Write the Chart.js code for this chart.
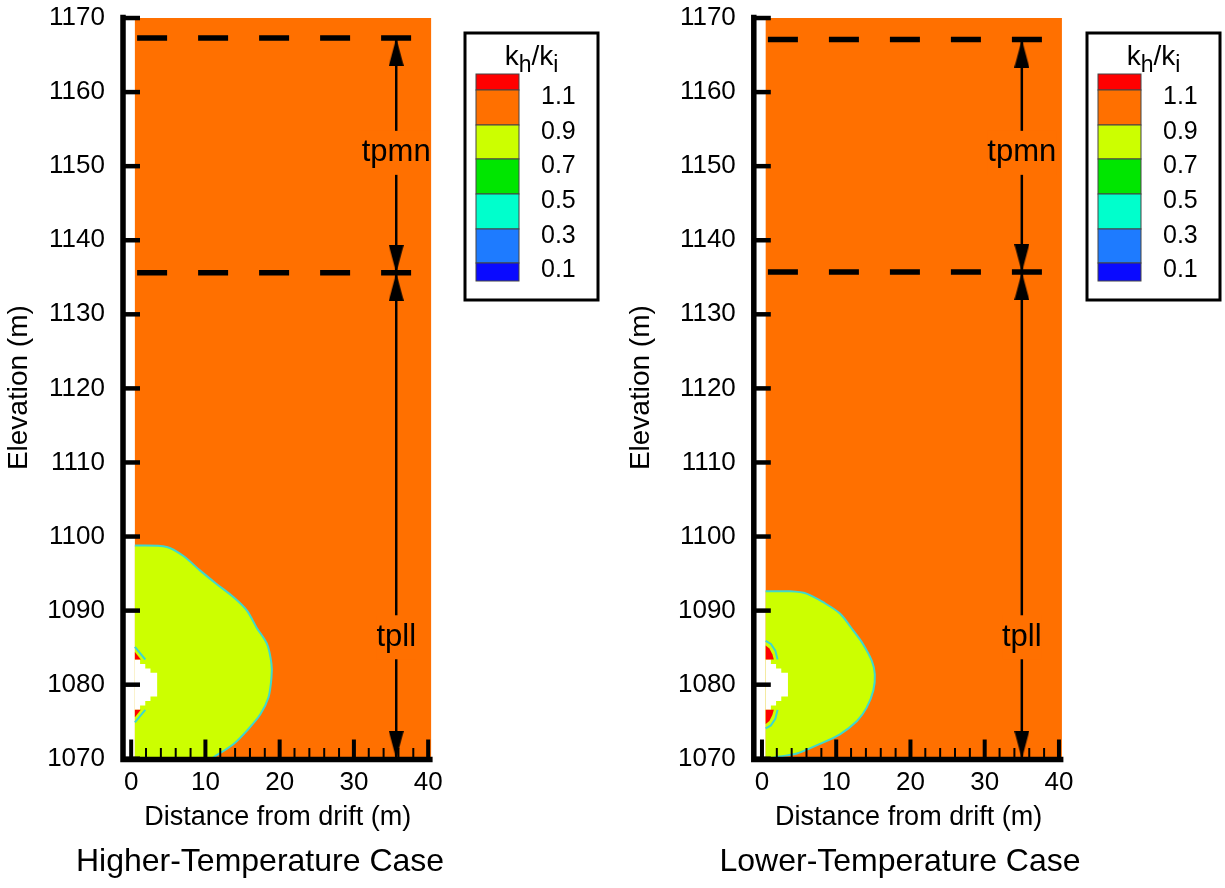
<!DOCTYPE html>
<html>
<head>
<meta charset="utf-8">
<title>kh/ki around the drift</title>
<script src="https://cdn.jsdelivr.net/npm/chart.js@4.4.1/dist/chart.umd.min.js"></script>
<style>
  body { margin: 0; background: #fff; }
  #wrap { position: relative; width: 1225px; height: 888px; }
  canvas { position: absolute; top: 0; }
</style>
</head>
<body>
<div id="wrap">
  <canvas id="hiChart" width="612" height="888" style="left:0"></canvas>
  <canvas id="loChart" width="613" height="888" style="left:612px"></canvas>
</div>
<script>
// axes
const xTicks = [0, 10, 20, 30, 40];
const xMinorTicks = [0, 2, 4, 6, 8, 10, 12, 14, 16, 18, 20, 22, 24, 26, 28, 30, 32, 34, 36, 38, 40];
const yTicks = [1070, 1080, 1090, 1100, 1110, 1120, 1130, 1140, 1150, 1160, 1170];

// model domain (m)
const modelX = [0.5, 40.4];
const modelY = [1070, 1170];

// legend
const legendLevels = ["1.1", "0.9", "0.7", "0.5", "0.3", "0.1"];
const legendColors = ["#ff0000", "#ff7000", "#ccff00", "#00e600", "#00ffcc", "#1e7bff", "#0a0aff"];

// drift opening (white)
const driftX = [0.5, 1.2, 1.2, 1.9, 1.9, 2.6, 2.6, 3.5, 3.5, 2.6, 2.6, 1.9, 1.9, 1.2, 1.2, 0.5];
const driftY = [1083.4, 1083.4, 1082.8, 1082.8, 1082.2, 1082.2, 1081.6, 1081.6, 1078.4, 1078.4, 1077.8, 1077.8, 1077.2, 1077.2, 1076.6, 1076.6];

// higher-temperature case: 0.9 contour (edge of the 0.7-0.9 zone)
const hiZoneX = [0.5, 4.8, 7.0, 9.3, 11.5, 13.8, 15.6, 16.9, 18.3, 18.9, 18.9, 18.5, 17.4, 15.6, 13.8, 11.1, 10.8];
const hiZoneY = [1098.8, 1098.6, 1097.4, 1095.4, 1093.6, 1091.8, 1090.0, 1087.7, 1085.5, 1082.8, 1081.0, 1078.3, 1076.0, 1073.8, 1072.0, 1070.2, 1070];
const hiRedTopX = [0.5, 1.3, 0.5];
const hiRedTopY = [1084.4, 1083.4, 1083.4];
const hiRedBotX = [0.5, 1.3, 0.5];
const hiRedBotY = [1075.6, 1076.6, 1076.6];
const hiRimTopX = [0.5, 1.9];
const hiRimTopY = [1085.1, 1083.4];
const hiRimBotX = [0.5, 1.9];
const hiRimBotY = [1074.9, 1076.6];

// lower-temperature case
const loZoneX = [0.5, 3.8, 6.0, 8.3, 10.5, 12.3, 13.6, 14.8, 15.2, 15.0, 14.1, 12.8, 10.5, 7.8, 4.7, 2.4, 1.0];
const loZoneY = [1092.6, 1092.6, 1092.3, 1091.1, 1089.6, 1087.3, 1085.5, 1083.2, 1081.4, 1079.2, 1076.9, 1075.1, 1073.3, 1072.0, 1070.7, 1070.3, 1070];
const loRedTopX = [0.5, 1.0, 1.4, 1.6, 0.5];
const loRedTopY = [1085.3, 1084.9, 1084.1, 1083.4, 1083.4];
const loRedBotX = [0.5, 1.0, 1.4, 1.6, 0.5];
const loRedBotY = [1074.7, 1075.1, 1075.9, 1076.6, 1076.6];
const loRimTopX = [0.5, 1.2, 1.8, 2.1];
const loRimTopY = [1085.9, 1085.5, 1084.6, 1083.4];
const loRimBotX = [0.5, 1.2, 1.8, 2.1];
const loRimBotY = [1074.1, 1074.5, 1075.4, 1076.6];

// unit contacts and thickness arrows
const hiContacts = [1167.3, 1135.6];
const loContacts = [1167.1, 1135.7];
const contactSpan = [0.8, 38];
const hiArrowX = 35.7;
const loArrowX = 35.0;
const unitNames = ["tpmn", "tpll"];
const hiUnitY = [1151.8, 1086.4];
const loUnitY = [1151.8, 1086.4];

const FONT = "'Liberation Sans', Arial, sans-serif";
const ORANGE = "#ff7000";

function arrowHead(dir) {
  const w = 15, h = 28;
  const c = document.createElement("canvas");
  c.width = w;
  c.height = h * 2;
  const g = c.getContext("2d");
  g.fillStyle = "#000";
  g.beginPath();
  if (dir === "up") {
    g.moveTo(w / 2, h); g.lineTo(0, 2 * h); g.lineTo(w, 2 * h);
  } else {
    g.moveTo(w / 2, h); g.lineTo(0, 0); g.lineTo(w, 0);
  }
  g.closePath();
  g.fill();
  return c;
}
const headUp = arrowHead("up");
const headDown = arrowHead("down");

// axis lines and inward ticks
const frameAxes = {
  id: "frameAxes",
  afterDatasetsDraw(chart) {
    const { ctx, chartArea: a, scales: { x, y } } = chart;
    ctx.save();
    ctx.strokeStyle = "#000";
    ctx.lineWidth = 5.5;
    ctx.beginPath();
    ctx.moveTo(a.left, a.top - 1);
    ctx.lineTo(a.left, a.bottom + 2.75);
    ctx.moveTo(a.left - 2.75, a.bottom);
    ctx.lineTo(a.right, a.bottom);
    ctx.stroke();
    ctx.lineWidth = 4.5;
    yTicks.forEach(v => {
      const py = y.getPixelForValue(v);
      ctx.beginPath();
      ctx.moveTo(a.left, py);
      ctx.lineTo(a.left + 17, py);
      ctx.stroke();
    });
    xMinorTicks.forEach(v => {
      const px = x.getPixelForValue(v);
      const major = xTicks.includes(v);
      ctx.lineWidth = major ? 4 : 2;
      ctx.beginPath();
      ctx.moveTo(px, a.bottom);
      ctx.lineTo(px, a.bottom - (major ? 20 : 11.5));
      ctx.stroke();
    });
    ctx.restore();
  }
};

// unit names sitting on the arrows
const unitLabels = {
  id: "unitLabels",
  afterDatasetsDraw(chart, args, opts) {
    const { ctx, chartArea: a, scales: { x, y } } = chart;
    ctx.save();
    ctx.font = "31px " + FONT;
    ctx.textAlign = "center";
    ctx.textBaseline = "middle";
    unitNames.forEach((t, i) => {
      const px = x.getPixelForValue(opts.x);
      const py = y.getPixelForValue(opts.y[i]);
      const w = ctx.measureText(t).width;
      // hide the arrow shaft behind the name, inside the model area only
      const l = Math.max(px - w / 2, x.getPixelForValue(modelX[0]));
      const r = Math.min(px + w / 2, x.getPixelForValue(modelX[1]));
      ctx.fillStyle = ORANGE;
      ctx.fillRect(l, py - 22, r - l, 44);
      ctx.fillStyle = "#000";
      ctx.fillText(t, px, py);
    });
    ctx.restore();
  }
};

// kh/ki colour legend
const levelLegend = {
  id: "levelLegend",
  afterDraw(chart, args, opts) {
    const { ctx, chartArea: a } = chart;
    const bx = a.right + opts.dx, by = 33, bw = 133, bh = 267;
    ctx.save();
    ctx.fillStyle = "#fff";
    ctx.fillRect(bx, by, bw, bh);
    ctx.lineWidth = 3;
    ctx.strokeStyle = "#000";
    ctx.strokeRect(bx, by, bw, bh);

    const parts = [["k", 28, 0], ["h", 23, 7], ["/k", 28, 0], ["i", 23, 7]];
    let total = 0;
    parts.forEach(p => { ctx.font = p[1] + "px " + FONT; p.push(ctx.measureText(p[0]).width); total += p[3]; });
    let tx = bx + bw / 2 - total / 2;
    ctx.fillStyle = "#000";
    ctx.textBaseline = "alphabetic";
    ctx.textAlign = "left";
    parts.forEach(p => {
      ctx.font = p[1] + "px " + FONT;
      ctx.fillText(p[0], tx, by + 32 + p[2]);
      tx += p[3];
    });

    const edges = [41, 57, 92, 126, 161, 196, 230, 248];
    legendColors.forEach((col, i) => {
      ctx.fillStyle = col;
      ctx.fillRect(bx + 11, by + edges[i], 43, edges[i + 1] - edges[i]);
      ctx.strokeStyle = "#444";
      ctx.lineWidth = 1;
      ctx.strokeRect(bx + 11, by + edges[i], 43, edges[i + 1] - edges[i]);
    });
    ctx.fillStyle = "#000";
    ctx.font = "25px " + FONT;
    ctx.textBaseline = "middle";
    legendLevels.forEach((t, i) => {
      ctx.fillText(t, bx + 76, by + edges[i + 1] + 7);
    });
    ctx.restore();
  }
};

// case caption under each panel
const caseCaption = {
  id: "caseCaption",
  afterDraw(chart, args, opts) {
    const { ctx } = chart;
    ctx.save();
    ctx.font = "32px " + FONT;
    ctx.fillStyle = "#000";
    ctx.textAlign = "center";
    ctx.textBaseline = "middle";
    ctx.fillText(opts.text, opts.x, 862);
    ctx.restore();
  }
};

function pts(xs, ys) {
  return xs.map((x, i) => ({ x: x, y: ys[i] }));
}
function shape(data, color, order, tension) {
  return { data: data, showLine: true, fill: "shape", backgroundColor: color,
           borderColor: "transparent", borderWidth: 0, pointRadius: 0, tension: tension || 0, order: order };
}
function path(data, color, width, order, dash, tension) {
  return { data: data, showLine: true, fill: false, borderColor: color, borderWidth: width,
           borderDash: dash || [], pointRadius: 0, tension: tension || 0, order: order };
}

function buildChart(id, c) {
  const box = pts([modelX[0], modelX[1], modelX[1], modelX[0]], [modelY[0], modelY[0], modelY[1], modelY[1]]);
  const zone = pts(c.zoneX.concat([modelX[0]]), c.zoneY.concat([modelY[0]]));
  const ax = c.arrowX;
  const top = c.contacts[0], mid = c.contacts[1];

  const datasets = [
    shape(box, ORANGE, 20),
    shape(zone, "#ccff00", 19, 0.3),
    path(pts(c.zoneX, c.zoneY), "#3fd8cc", 2, 18, null, 0.3),
    shape(pts(driftX, driftY), "#ffffff", 17),
    shape(pts(c.redTopX, c.redTopY), "#ff0000", 16),
    shape(pts(c.redBotX, c.redBotY), "#ff0000", 16),
    path(pts(c.rimTopX, c.rimTopY), "#3fd8cc", 2, 15),
    path(pts(c.rimBotX, c.rimBotY), "#3fd8cc", 2, 15),
    path(pts(contactSpan, [top, top]), "#000", 5.5, 10, [30, 31]),
    path(pts(contactSpan, [mid, mid]), "#000", 5.5, 10, [30, 31]),
    path(pts([ax, ax], [top, mid]), "#000", 2.5, 8),
    path(pts([ax, ax], [mid, modelY[0]]), "#000", 2.5, 8),
    { data: pts([ax, ax, ax, ax], [top, mid, mid, modelY[0]]), showLine: false,
      pointStyle: [headUp, headDown, headUp, headDown], pointRadius: 5, order: 6 }
  ];

  const W = document.getElementById(id).width;

  return new Chart(document.getElementById(id), {
    type: "scatter",
    data: { datasets: datasets },
    options: {
      responsive: false,
      animation: false,
      events: [],
      layout: { padding: { left: 0, right: W - c.plotRight, top: 15.8, bottom: 42.4 } },
      scales: {
        x: {
          type: "linear", min: -1.1, max: 40.6,
          afterBuildTicks: s => { s.ticks = xTicks.map(v => ({ value: v })); },
          afterFit: s => { s.height = 86.1; s.paddingLeft = 0; s.paddingRight = 0; },
          grid: { display: false, drawTicks: false },
          border: { display: false },
          ticks: { color: "#000", font: { family: FONT, size: 26 }, padding: 8,
                   autoSkip: false, maxRotation: 0, callback: v => String(v) },
          title: { display: true, text: "Distance from drift (m)", color: "#000",
                   font: { family: FONT, size: 27 }, padding: { top: 0, bottom: 12 } }
        },
        y: {
          type: "linear", min: 1069.9, max: 1170.3,
          afterBuildTicks: s => { s.ticks = yTicks.map(v => ({ value: v })); },
          afterFit: s => { s.width = c.plotLeft; s.paddingTop = 0; s.paddingBottom = 0; },
          grid: { display: false, drawTicks: false },
          border: { display: false },
          ticks: { color: "#000", font: { family: FONT, size: 26 }, padding: 18,
                   autoSkip: false, callback: v => String(v) },
          title: { display: true, text: "Elevation (m)", color: "#000",
                   font: { family: FONT, size: 28 }, padding: { top: c.yTitlePad, bottom: 0 } }
        }
      },
      plugins: {
        legend: { display: false },
        tooltip: { enabled: false },
        unitLabels: { x: c.arrowX, y: c.unitY },
        levelLegend: { dx: c.legendDx },
        caseCaption: { text: c.caption, x: c.captionX }
      }
    },
    plugins: [frameAxes, unitLabels, levelLegend, caseCaption]
  });
}

buildChart("hiChart", {
  zoneX: hiZoneX, zoneY: hiZoneY,
  redTopX: hiRedTopX, redTopY: hiRedTopY, redBotX: hiRedBotX, redBotY: hiRedBotY,
  rimTopX: hiRimTopX, rimTopY: hiRimTopY, rimBotX: hiRimBotX, rimBotY: hiRimBotY,
  contacts: hiContacts, arrowX: hiArrowX, unitY: hiUnitY,
  caption: "Higher-Temperature Case", captionX: 260,
  plotLeft: 123, plotRight: 432.6, yTitlePad: 2, legendDx: 32.4
});

buildChart("loChart", {
  zoneX: loZoneX, zoneY: loZoneY,
  redTopX: loRedTopX, redTopY: loRedTopY, redBotX: loRedBotX, redBotY: loRedBotY,
  rimTopX: loRimTopX, rimTopY: loRimTopY, rimBotX: loRimBotX, rimBotY: loRimBotY,
  contacts: loContacts, arrowX: loArrowX, unitY: loUnitY,
  caption: "Lower-Temperature Case", captionX: 288,
  plotLeft: 141.8, plotRight: 451.4, yTitlePad: 12, legendDx: 23.6
});
</script>
</body>
</html>
